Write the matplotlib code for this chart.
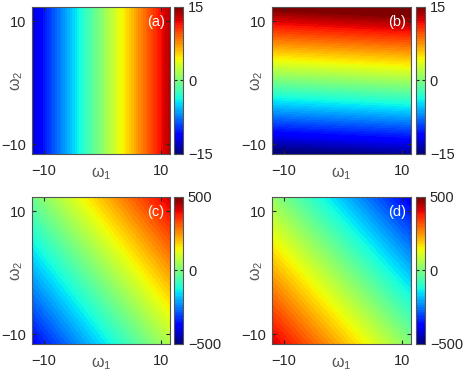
import matplotlib

matplotlib.use("Agg")
import matplotlib.pyplot as plt
import numpy as np
from matplotlib.cm import ScalarMappable
from matplotlib.colors import Normalize

plt.rcParams["font.family"] = ["Liberation Sans", "DejaVu Sans"]
plt.rcParams["mathtext.fontset"] = "custom"
plt.rcParams["mathtext.rm"] = "Liberation Sans"
plt.rcParams["mathtext.it"] = "Liberation Sans:italic"

INK = "#262626"

# grid corners of omega_1 / omega_2 and the field read at those corners
# rows: omega_2 low -> high, cols: omega_1 low -> high
omega1 = [-12.0, 11.5]
omega2 = [-11.6, 12.3]
field_a = [[-12.8, 13.5], [-12.8, 13.5]]
field_b = [[-15.7, -14.2], [15.3, 16.8]]
field_c = [[-380.0, 60.0], [-20.0, 420.0]]
field_d = [[420.0, 5.0], [25.0, -390.0]]

panel_labels = ["(a)", "(b)", "(c)", "(d)"]
color_limits = [15, 15, 500, 500]
axis_ticks = [-10, 10]

cmap = plt.get_cmap("jet", 64)

fig = plt.figure(figsize=(4.63, 3.82), dpi=100)

# axes boxes in figure fractions: left, bottom, width, height
boxes = [
    (0.069, 0.597, 0.298, 0.385),
    (0.5875, 0.597, 0.300, 0.385),
    (0.069, 0.0995, 0.298, 0.385),
    (0.5875, 0.0995, 0.300, 0.385),
]
cbar_lefts = [0.376, 0.8985, 0.376, 0.8985]

fields = [field_a, field_b, field_c, field_d]
for field, label, lim, box, cleft in zip(fields, panel_labels, color_limits, boxes, cbar_lefts):
    ax = fig.add_axes(box)
    norm = Normalize(-lim, lim)
    levels = np.linspace(-lim, lim, 65)
    ax.contourf(omega1, omega2, np.array(field), levels=levels, cmap=cmap,
                norm=norm, extend="both")
    ax.set_xlim(omega1)
    ax.set_ylim(omega2)
    ax.set_xticks(axis_ticks)
    ax.set_yticks(axis_ticks)
    ax.tick_params(direction="in", length=3, top=True, right=True,
                   labelsize=10.5, colors=INK)
    ax.tick_params(axis="x", pad=7.5)
    ax.tick_params(axis="y", pad=4)
    for spine in ax.spines.values():
        spine.set_color("#555555")
        spine.set_linewidth(0.8)
    ax.set_xlabel(r"$\mathregular{\omega_1}$", fontsize=11.5, color="#555555")
    ax.set_ylabel(r"$\mathregular{\omega_2}$", fontsize=11.5, color="#555555")
    ax.xaxis.set_label_coords(0.5, -0.075)
    ax.yaxis.set_label_coords(-0.05, 0.5)
    ax.text(0.9, 0.9, label, transform=ax.transAxes, ha="center", va="center",
            color="white", fontsize=10.5)

    cax = fig.add_axes((cleft, box[1], 0.0194, box[3]))
    cb = fig.colorbar(ScalarMappable(norm=norm, cmap=cmap), cax=cax,
                      ticks=[-lim, 0, lim])
    cb.outline.set_edgecolor("#555555")
    cb.outline.set_linewidth(0.8)
    cax.tick_params(direction="in", length=2.5, left=True, right=True,
                    labelsize=10.5, colors=INK, pad=3.5)

fig.savefig("out.png", dpi=100)
plt.close(fig)
